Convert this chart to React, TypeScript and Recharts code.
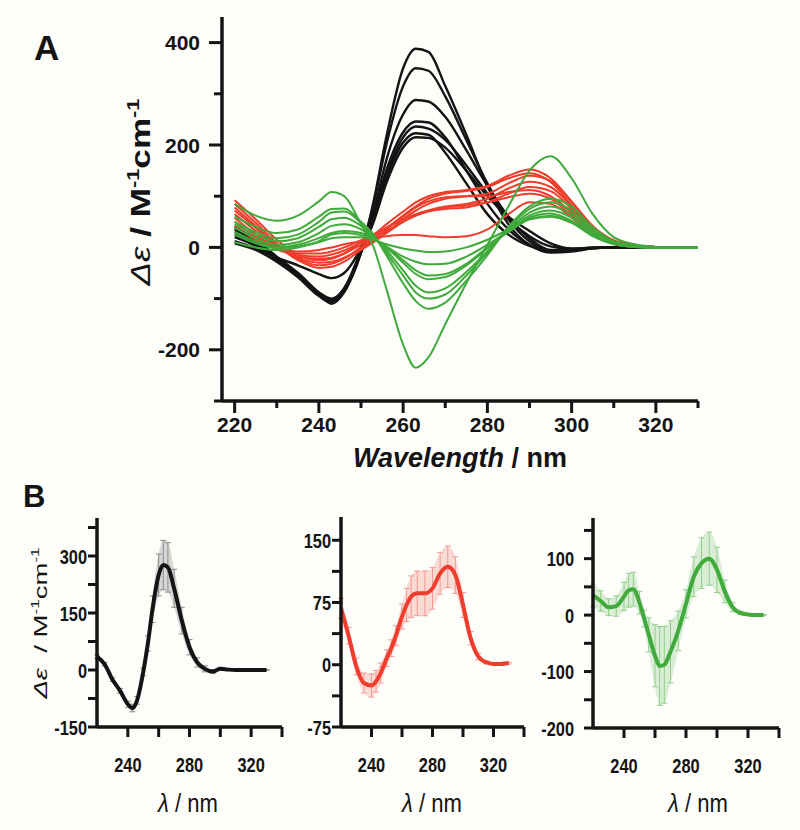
import React from "react";
import { Area, ComposedChart, ErrorBar, Line, LineChart, XAxis, YAxis } from "recharts";

const FONT = "'Liberation Sans', Arial, Helvetica, sans-serif";
const INK = "#141414";
const RED = "#ee3d2c";
const GREEN = "#40aa3c";

// wavelength grid (nm)
const WL = [220, 225, 230, 235, 240, 243, 246, 250, 253, 256, 260, 263, 266, 270, 275, 280, 285, 290, 295, 300, 305, 310, 315, 320, 325, 330];

// panel A, black curves
const BLACK_1 = [40, 15, -18, -50, -88, -105, -85, -10, 90, 215, 350, 388, 382, 315, 220, 120, 45, 5, -10, -8, -2, 0, 0, 0, 0, 0];
const BLACK_2 = [35, 12, -20, -52, -90, -102, -80, -5, 85, 200, 315, 350, 345, 295, 210, 125, 55, 12, -8, -6, -2, 0, 0, 0, 0, 0];
const BLACK_3 = [30, 8, -22, -55, -92, -110, -88, -10, 70, 170, 260, 288, 285, 255, 190, 120, 60, 18, -5, -5, -2, 0, 0, 0, 0, 0];
const BLACK_4 = [25, 5, -25, -57, -92, -105, -82, -8, 65, 150, 225, 246, 244, 215, 150, 85, 35, 5, -8, -6, -1, 0, 0, 0, 0, 0];
const BLACK_5 = [20, 3, -22, -50, -88, -100, -80, -5, 60, 140, 215, 236, 232, 210, 160, 105, 55, 22, 2, -3, -1, 0, 0, 0, 0, 0];
const BLACK_6 = [12, -2, -20, -35, -52, -60, -50, 0, 60, 135, 205, 223, 220, 185, 125, 65, 25, 3, -6, -4, 0, 0, 0, 0, 0, 0];
const BLACK_7 = [8, -5, -28, -58, -95, -108, -85, -10, 50, 125, 195, 215, 214, 195, 150, 100, 60, 32, 8, -2, -1, 0, 0, 0, 0, 0];

// panel A, red curves
const RED_1 = [92, 55, 15, -15, -25, -22, -12, 10, 25, 45, 70, 88, 100, 108, 112, 120, 140, 152, 135, 90, 42, 14, 4, 1, 0, 0];
const RED_2 = [85, 48, 8, -22, -35, -32, -22, 0, 15, 35, 62, 80, 95, 105, 110, 118, 135, 145, 128, 82, 36, 11, 3, 1, 0, 0];
const RED_3 = [78, 42, 5, -25, -40, -38, -28, -5, 10, 28, 55, 72, 85, 95, 100, 105, 125, 140, 130, 88, 40, 12, 3, 1, 0, 0];
const RED_4 = [72, 38, 2, -20, -30, -28, -20, -2, 12, 28, 50, 62, 72, 80, 85, 95, 115, 128, 118, 80, 36, 10, 3, 1, 0, 0];
const RED_5 = [65, 32, 0, -18, -22, -20, -12, 5, 18, 32, 50, 62, 70, 75, 78, 88, 105, 118, 110, 75, 33, 10, 3, 1, 0, 0];
const RED_6 = [58, 25, -2, -15, -18, -14, -6, 10, 22, 38, 60, 78, 90, 98, 100, 100, 108, 112, 100, 68, 30, 9, 2, 1, 0, 0];
const RED_7 = [50, 20, -4, -12, -12, -8, 0, 14, 25, 38, 55, 65, 72, 78, 82, 88, 98, 105, 95, 62, 28, 8, 2, 0, 0, 0];
const RED_8 = [42, 15, -2, -8, -5, 0, 6, 12, 18, 22, 24, 24, 22, 20, 22, 35, 65, 88, 85, 58, 25, 7, 2, 0, 0, 0];

// panel A, green curves
const GREEN_1 = [85, 62, 52, 62, 90, 108, 100, 45, 0, -80, -190, -235, -215, -150, -70, 5, 80, 150, 178, 135, 65, 20, 6, 1, 0, 0];
const GREEN_2 = [60, 40, 28, 35, 60, 75, 76, 50, 25, -15, -70, -105, -120, -108, -65, -15, 40, 80, 95, 80, 40, 12, 3, 1, 0, 0];
const GREEN_3 = [50, 30, 18, 25, 50, 68, 70, 48, 22, -10, -55, -88, -100, -92, -55, -10, 38, 75, 88, 72, 35, 10, 2, 0, 0, 0];
const GREEN_4 = [45, 25, 12, 18, 40, 55, 58, 42, 20, -5, -45, -75, -88, -80, -48, -8, 35, 68, 80, 65, 32, 9, 2, 0, 0, 0];
const GREEN_5 = [38, 18, 5, 10, 28, 42, 45, 35, 18, 0, -30, -52, -62, -58, -35, -2, 32, 62, 72, 58, 28, 8, 2, 0, 0, 0];
const GREEN_6 = [30, 12, 0, 5, 18, 28, 32, 28, 16, 2, -18, -28, -33, -32, -18, 5, 32, 58, 66, 52, 25, 7, 1, 0, 0, 0];
const GREEN_7 = [25, 8, -2, 2, 10, 18, 20, 20, 15, 6, -2, -6, -9, -8, 0, 15, 35, 55, 60, 48, 22, 6, 1, 0, 0, 0];
const GREEN_8 = [10, 0, -5, 0, 12, 25, 28, 24, 16, 0, -25, -45, -55, -52, -32, 0, 30, 55, 62, 50, 24, 7, 1, 0, 0, 0];

const BLACK_SERIES = [BLACK_1, BLACK_2, BLACK_3, BLACK_4, BLACK_5, BLACK_6, BLACK_7];
const RED_SERIES = [RED_1, RED_2, RED_3, RED_4, RED_5, RED_6, RED_7, RED_8];
const GREEN_SERIES = [GREEN_1, GREEN_2, GREEN_3, GREEN_4, GREEN_5, GREEN_6, GREEN_7, GREEN_8];

// panel B, mean and deviation
const MEAN_BLACK = [35, 15, -25, -55, -90, -100, -80, -5, 70, 160, 250, 276, 270, 215, 130, 60, 20, 3, -4, 3, 1, 0, 0, 0, 0, 0];
const SD_BLACK = [5, 5, 5, 6, 8, 10, 10, 10, 20, 35, 55, 65, 65, 50, 35, 20, 12, 8, 5, 4, 2, 1, 1, 1, 1, 1];
const MEAN_RED = [68, 35, -2, -22, -25, -20, -10, 8, 20, 35, 58, 72, 82, 86, 86, 92, 110, 118, 108, 72, 32, 10, 3, 1, 1, 2];
const SD_RED = [12, 10, 10, 12, 14, 13, 12, 10, 10, 12, 15, 20, 25, 27, 27, 25, 25, 25, 22, 15, 8, 4, 2, 1, 1, 1];
const MEAN_GREEN = [35, 25, 14, 16, 33, 44, 46, 22, -6, -35, -72, -90, -88, -65, -28, 20, 68, 92, 100, 80, 42, 14, 4, 1, 0, 0];
const SD_GREEN = [20, 18, 15, 18, 25, 30, 30, 20, 15, 30, 55, 70, 68, 55, 35, 25, 35, 45, 47, 40, 20, 8, 3, 1, 1, 1];

const A_X_TICKS = [220, 230, 240, 250, 260, 270, 280, 290, 300, 310, 320, 330];
const A_Y_TICKS = [-300, -200, -100, 0, 100, 200, 300, 400];
const B_X_TICKS = [240, 260, 280, 300, 320, 340];
const B1_Y_TICKS = [-150, -75, 0, 75, 150, 225, 300, 375];
const B2_Y_TICKS = [-75, -37.5, 0, 37.5, 75, 112.5, 150];
const B3_Y_TICKS = [-200, -150, -100, -50, 0, 50, 100, 150];

const W = 800;
const H = 830;

const dataA = WL.map((wl, i) => {
  const row: Record<string, number> = { wl };
  BLACK_SERIES.forEach((s, k) => (row[`b${k}`] = s[i]));
  RED_SERIES.forEach((s, k) => (row[`r${k}`] = s[i]));
  GREEN_SERIES.forEach((s, k) => (row[`g${k}`] = s[i]));
  return row;
});

function bRows(mean: number[], sd: number[]) {
  return WL.map((wl, i) => ({ wl, m: mean[i], e: sd[i], band: [mean[i] - sd[i], mean[i] + sd[i]] }));
}

type TickOpts = {
  major: (v: number) => boolean;
  majorLen: number;
  minorLen: number;
  size: number;
  gap: number;
  bold?: boolean;
  sx?: number;
};

function xTick(o: TickOpts) {
  return (p: any) => {
    const { x, y, payload } = p;
    const v = payload.value;
    const mj = o.major(v);
    return (
      <g>
        <line x1={x} x2={x} y1={y} y2={y + (mj ? o.majorLen : o.minorLen)} stroke={INK} strokeWidth={3} />
        {mj ? (
          <text
            transform={`translate(${x},${y + o.gap}) scale(${o.sx ?? 1},1)`}
            textAnchor="middle"
            fontSize={o.size}
            fontWeight={o.bold ? "bold" : "normal"}
            fontFamily={FONT}
            fill={INK}
          >
            {v}
          </text>
        ) : null}
      </g>
    );
  };
}

function yTick(o: TickOpts) {
  return (p: any) => {
    const { x, y, payload } = p;
    const v = payload.value;
    const mj = o.major(v);
    return (
      <g>
        <line x1={x} x2={x - (mj ? o.majorLen : o.minorLen)} y1={y} y2={y} stroke={INK} strokeWidth={3} />
        {mj ? (
          <text
            transform={`translate(${x - o.gap},${y}) scale(${o.sx ?? 1},1)`}
            dy="0.36em"
            textAnchor="end"
            fontSize={o.size}
            fontWeight={o.bold ? "bold" : "normal"}
            fontFamily={FONT}
            fill={INK}
          >
            {v}
          </text>
        ) : null}
      </g>
    );
  };
}

const axisLine = { stroke: INK, strokeWidth: 3.5 };
const layer: React.CSSProperties = { position: "absolute", left: 0, top: 0 };

// plot rectangle -> chart margin (axes take 1px each)
function plotMargin(l: number, t: number, r: number, b: number) {
  return { left: l - 1, top: t, right: W - r, bottom: H - b - 1 };
}

function PanelB(props: {
  rows: ReturnType<typeof bRows>;
  rect: [number, number, number, number];
  yDomain: [number, number];
  yTicks: number[];
  yMajor: (v: number) => boolean;
  yGap: number;
  color: string;
  barColor: string;
}) {
  const [l, t, r, b] = props.rect;
  return (
    <div style={layer}>
      <ComposedChart width={W} height={H} data={props.rows} margin={plotMargin(l, t, r, b)}>
        <XAxis
          dataKey="wl"
          type="number"
          domain={[220, 340]}
          ticks={B_X_TICKS}
          interval={0}
          allowDataOverflow
          height={1}
          tickSize={0}
          tickMargin={0}
          tickLine={false}
          axisLine={axisLine}
          tick={xTick({ major: (v) => v % 40 === 0, majorLen: 10, minorLen: 10, size: 21, gap: 45, sx: 0.78, bold: true })}
        />
        <YAxis
          type="number"
          domain={props.yDomain}
          ticks={props.yTicks}
          interval={0}
          allowDataOverflow
          width={1}
          tickSize={0}
          tickMargin={0}
          tickLine={false}
          axisLine={axisLine}
          tick={yTick({ major: props.yMajor, majorLen: 9, minorLen: 9, size: 21, gap: props.yGap, sx: 0.78, bold: true })}
        />
        <Area dataKey="band" type="monotone" stroke="none" fill={props.barColor} fillOpacity={0.35} isAnimationActive={false} />
        <Line dataKey="m" type="monotone" stroke={props.color} strokeWidth={4} dot={false} isAnimationActive={false}>
          <ErrorBar dataKey="e" width={3} stroke={props.barColor} strokeWidth={1} />
        </Line>
      </ComposedChart>
    </div>
  );
}

function UnitLabel({ size }: { size: number }) {
  const up = size * 0.42;
  const small = size * 0.62;
  return (
    <>
      <tspan>{"\u00a0/ M"}</tspan>
      <tspan dy={-up} fontSize={small}>-1</tspan>
      <tspan dy={up}>cm</tspan>
      <tspan dy={-up} fontSize={small}>-1</tspan>
    </>
  );
}

export default function App() {
  return (
    <div style={{ position: "absolute", left: 0, top: 0, width: W, height: H, background: "#fdfdfa", overflow: "hidden" }}>
      <div style={layer}>
        <LineChart width={W} height={H} data={dataA} margin={plotMargin(222, 17, 698, 401)}>
          <XAxis
            dataKey="wl"
            type="number"
            domain={[217, 330]}
            ticks={A_X_TICKS}
            interval={0}
            allowDataOverflow
            height={1}
            tickSize={0}
            tickMargin={0}
            tickLine={false}
            axisLine={axisLine}
            tick={xTick({ major: (v) => v % 20 === 0, majorLen: 12, minorLen: 7, size: 21, gap: 31, bold: true })}
          />
          <YAxis
            type="number"
            domain={[-300, 450]}
            ticks={A_Y_TICKS}
            interval={0}
            allowDataOverflow
            width={1}
            tickSize={0}
            tickMargin={0}
            tickLine={false}
            axisLine={axisLine}
            tick={yTick({ major: (v) => v % 200 === 0, majorLen: 13, minorLen: 8, size: 21, gap: 22, bold: true })}
          />
          {BLACK_SERIES.map((_, k) => (
            <Line key={`b${k}`} dataKey={`b${k}`} type="monotone" stroke={INK} strokeWidth={2.4} dot={false} isAnimationActive={false} />
          ))}
          {RED_SERIES.map((_, k) => (
            <Line key={`r${k}`} dataKey={`r${k}`} type="monotone" stroke={RED} strokeWidth={2} dot={false} isAnimationActive={false} />
          ))}
          {GREEN_SERIES.map((_, k) => (
            <Line key={`g${k}`} dataKey={`g${k}`} type="monotone" stroke={GREEN} strokeWidth={2} dot={false} isAnimationActive={false} />
          ))}
        </LineChart>
      </div>

      <PanelB
        rows={bRows(MEAN_BLACK, SD_BLACK)}
        rect={[97, 518, 282, 727]}
        yDomain={[-150, 400]}
        yTicks={B1_Y_TICKS}
        yMajor={(v) => v % 150 === 0}
        yGap={10}
        color={INK}
        barColor="#8c8c8c"
      />
      <PanelB
        rows={bRows(MEAN_RED, SD_RED)}
        rect={[341, 517, 524, 727]}
        yDomain={[-75, 178]}
        yTicks={B2_Y_TICKS}
        yMajor={(v) => v % 75 === 0}
        yGap={10}
        color={RED}
        barColor="#f29a92"
      />
      <PanelB
        rows={bRows(MEAN_GREEN, SD_GREEN)}
        rect={[593, 518, 779, 728]}
        yDomain={[-200, 172]}
        yTicks={B3_Y_TICKS}
        yMajor={(v) => v % 100 === 0}
        yGap={19}
        color={GREEN}
        barColor="#92cf8c"
      />

      <svg width={W} height={H} style={{ ...layer, pointerEvents: "none" }}>
        <g fontFamily={FONT} fill={INK}>
          <text x={34} y={60} fontSize={35} fontWeight="bold">A</text>
          <text x={23} y={507} fontSize={31} fontWeight="bold">B</text>

          <text transform="translate(150,192) rotate(-90) scale(1.3,1)" textAnchor="middle" fontSize={27} fontWeight="bold">
            <tspan fontStyle="italic" fontWeight="normal">Δε</tspan>
            <UnitLabel size={27} />
          </text>
          <text x={460} y={467} textAnchor="middle" fontSize={27} fontWeight="bold">
            <tspan fontStyle="italic">Wavelength</tspan>
            <tspan>{" / nm"}</tspan>
          </text>

          <text transform="translate(47,623) rotate(-90) scale(1.45,1)" textAnchor="middle" fontSize={19}>
            <tspan fontStyle="italic">{"Δε\u00a0"}</tspan>
            <UnitLabel size={19} />
          </text>
          {[188, 432, 698].map((cx) => (
            <text key={cx} transform={`translate(${cx},812) scale(0.85,1)`} textAnchor="middle" fontSize={26}>
              <tspan fontStyle="italic">λ</tspan>
              <tspan>{" / nm"}</tspan>
            </text>
          ))}
        </g>
      </svg>
    </div>
  );
}
